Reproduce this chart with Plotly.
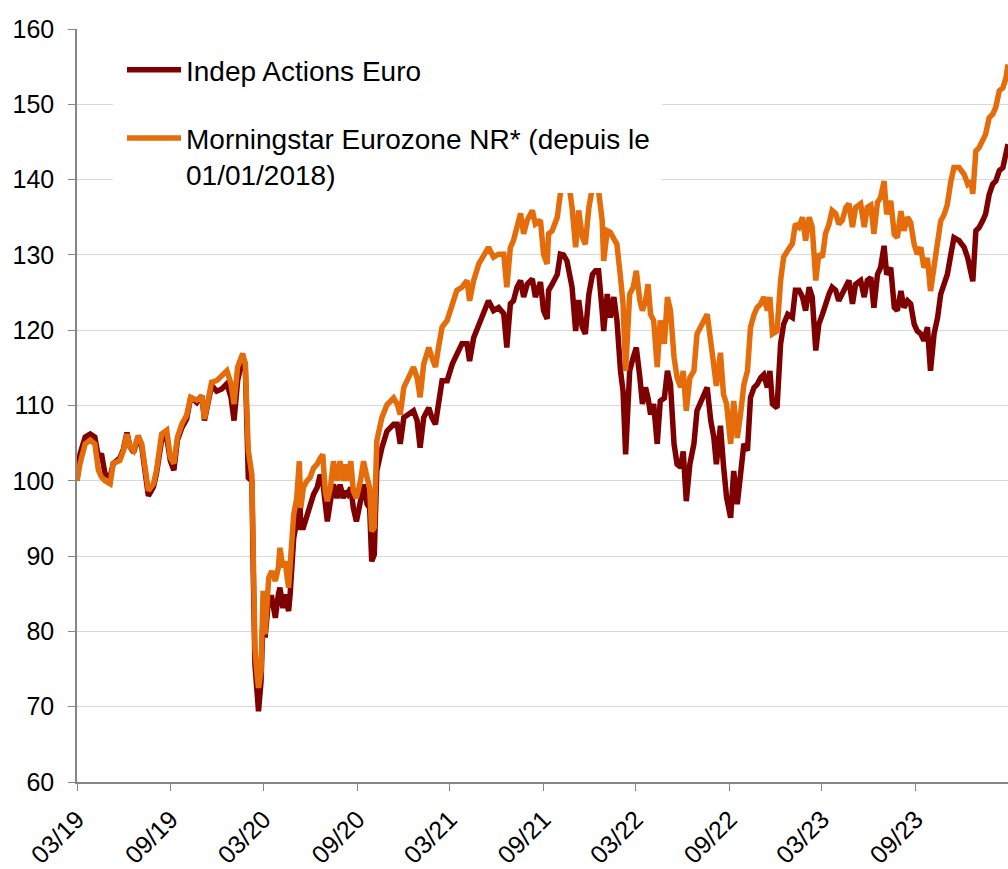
import plotly.graph_objects as go

dates = [
"2019-03-01","2019-03-07","2019-03-17","2019-03-27","2019-04-05","2019-04-12","2019-04-18","2019-04-25","2019-05-05","2019-05-11",
"2019-05-24","2019-05-31","2019-06-07","2019-06-13","2019-06-20","2019-06-29","2019-07-06","2019-07-12","2019-07-19","2019-07-29",
"2019-08-04","2019-08-14","2019-08-24","2019-08-31","2019-09-07","2019-09-14","2019-09-23","2019-10-02","2019-10-10","2019-10-22",
"2019-11-01","2019-11-06","2019-11-12","2019-11-20","2019-11-30","2019-12-10","2019-12-20","2019-12-28",
"2020-01-03","2020-01-10","2020-01-20","2020-01-25","2020-01-31","2020-02-07","2020-02-10","2020-02-13","2020-02-17","2020-02-20",
"2020-02-25","2020-02-29","2020-03-04","2020-03-11","2020-03-17","2020-03-24","2020-03-30","2020-04-02","2020-04-08","2020-04-12",
"2020-04-19","2020-04-22","2020-04-29","2020-05-05","2020-05-10","2020-05-13","2020-05-18","2020-05-25","2020-05-31","2020-06-07",
"2020-06-14","2020-06-20","2020-06-25","2020-06-30","2020-07-04","2020-07-10","2020-07-16","2020-07-23","2020-07-29","2020-08-04",
"2020-08-08","2020-08-13","2020-08-19","2020-08-24","2020-08-30","2020-09-07","2020-09-13","2020-09-20","2020-09-25","2020-09-29",
"2020-10-04","2020-10-09","2020-10-19","2020-10-29","2020-11-04","2020-11-11","2020-11-18","2020-11-24","2020-12-01","2020-12-10",
"2020-12-20","2020-12-27",
"2021-01-02","2021-01-09","2021-01-19","2021-01-25","2021-02-01","2021-02-07","2021-02-14","2021-02-24","2021-03-06","2021-03-15",
"2021-03-25","2021-04-04","2021-04-09","2021-04-17","2021-04-27","2021-05-07","2021-05-16","2021-05-26","2021-06-05","2021-06-15",
"2021-06-21","2021-06-28","2021-07-04","2021-07-11","2021-07-18","2021-07-24","2021-07-31","2021-08-10","2021-08-16","2021-08-26",
"2021-09-01","2021-09-08","2021-09-11","2021-09-18","2021-09-28","2021-10-04","2021-10-10","2021-10-17","2021-10-22","2021-10-27",
"2021-11-03","2021-11-09","2021-11-16","2021-11-22","2021-11-29","2021-12-06","2021-12-12","2021-12-18","2021-12-25","2021-12-28",
"2022-01-04","2022-01-10","2022-01-17","2022-01-23","2022-01-30","2022-02-04","2022-02-09","2022-02-13","2022-02-17","2022-02-24",
"2022-03-02","2022-03-09","2022-03-14","2022-03-20","2022-03-25","2022-03-30","2022-04-05","2022-04-12","2022-04-18","2022-04-26",
"2022-05-02","2022-05-08","2022-05-15","2022-05-21","2022-05-28","2022-06-02","2022-06-08","2022-06-15","2022-06-23","2022-06-29",
"2022-07-06","2022-07-12","2022-07-19","2022-07-26","2022-08-01","2022-08-06","2022-08-14","2022-08-20","2022-08-26","2022-09-03",
"2022-09-09","2022-09-16","2022-09-23","2022-09-29","2022-10-06","2022-10-12","2022-10-19","2022-10-25","2022-11-01","2022-11-07",
"2022-11-14","2022-11-19","2022-11-24","2022-12-03","2022-12-10","2022-12-16","2022-12-24",
"2023-01-02","2023-01-08","2023-01-15","2023-01-22","2023-01-28","2023-02-04","2023-02-10","2023-02-17","2023-02-23","2023-03-02",
"2023-03-08","2023-03-15","2023-03-21","2023-03-28","2023-04-03","2023-04-10","2023-04-17","2023-04-23","2023-04-30","2023-05-06",
"2023-05-16","2023-05-23","2023-05-29","2023-06-05","2023-06-11","2023-06-18","2023-06-24","2023-07-01","2023-07-06","2023-07-14",
"2023-07-21","2023-07-27","2023-08-03","2023-08-09","2023-08-16","2023-08-22","2023-08-29","2023-09-04","2023-09-11","2023-09-17",
"2023-09-24","2023-09-30","2023-10-07","2023-10-14","2023-10-20","2023-10-27","2023-11-02","2023-11-09","2023-11-15","2023-11-25",
"2023-12-05","2023-12-12","2023-12-18","2023-12-22","2023-12-28",
"2024-01-03","2024-01-10","2024-01-16","2024-01-23","2024-01-30","2024-02-05","2024-02-12","2024-02-19","2024-02-25","2024-02-29",
]

indep_actions_euro = [
100.0,103.6,105.8,106.2,105.8,103.1,103.6,100.9,100.5,102.3,103.0,104.2,106.4,104.5,103.8,105.8,104.5,100.9,98.0,99.2,
101.0,105.4,105.8,102.7,101.4,105.4,107.1,108.2,111.1,110.4,111.3,108.0,110.4,112.7,111.9,112.2,112.9,111.1,
108.0,113.3,116.4,115.5,100.4,100.0,86.7,75.6,72.1,69.4,73.4,82.3,79.2,84.5,84.5,81.8,84.9,85.8,83.1,84.9,82.7,84.9,92.4,
94.6,100.0,93.8,93.8,95.5,96.9,98.2,99.1,100.8,99.9,96.4,94.6,97.3,99.5,97.7,99.5,97.7,98.6,98.2,99.1,96.4,94.6,
97.3,99.5,96.9,96.4,89.3,90.2,101.3,104.4,106.6,107.1,107.5,107.5,104.9,108.4,108.8,109.3,108.0,
104.4,108.4,109.7,108.4,107.5,110.2,113.3,113.3,115.5,116.8,118.2,118.2,115.9,119.0,120.8,122.6,123.9,122.6,
123.0,122.2,117.7,123.5,123.9,125.7,126.6,124.4,126.1,126.8,124.4,126.4,122.6,121.5,125.3,126.1,127.4,
130.1,130.0,129.2,127.5,125.7,119.9,124.0,120.4,119.5,124.8,127.4,127.9,127.9,122.6,119.9,
124.8,121.7,124.4,121.3,114.6,111.9,103.5,110.2,114.6,116.4,117.7,113.7,110.2,112.4,111.0,108.8,
110.2,104.9,110.6,111.0,114.6,112.8,104.9,102.2,101.8,103.9,97.3,102.2,104.9,109.3,110.4,111.5,112.4,108.0,
105.8,102.2,107.3,102.0,97.8,95.1,101.3,96.9,101.3,104.9,104.0,111.1,112.4,112.8,113.7,114.1,112.4,114.6,110.2,
109.7,118.2,120.8,122.1,
121.7,125.3,125.3,124.4,122.6,125.7,124.4,117.3,120.8,122.1,123.5,124.8,125.7,125.3,123.9,124.8,125.7,126.6,123.5,
126.1,126.6,124.4,126.6,127.0,123.0,127.4,128.3,131.2,127.4,128.3,123.0,122.6,125.2,123.0,123.9,123.5,120.8,
119.9,119.5,118.6,120.4,114.6,119.5,121.7,124.8,126.1,127.4,130.1,132.3,131.9,131.0,129.6,127.9,126.5,133.2,
133.6,134.5,135.4,138.0,139.4,139.8,141.2,141.6,143.4,144.7,
]

morningstar_eurozone = [
100.0,102.3,104.9,105.4,104.9,101.4,100.5,100.0,99.6,102.3,102.7,104.0,106.2,104.5,104.0,106.0,104.9,101.4,98.7,99.6,
101.4,106.2,106.7,103.1,102.3,105.8,107.6,108.7,111.1,110.7,111.3,108.2,110.7,113.1,113.3,114.0,114.6,112.9,
110.2,115.1,116.9,115.5,104.0,100.8,86.7,77.8,74.3,72.5,74.7,85.4,79.6,87.1,88.0,86.7,88.5,91.1,88.5,89.3,85.8,88.5,95.5,
97.7,102.6,96.4,99.1,100.0,100.4,101.7,102.2,103.0,103.5,98.6,97.3,99.1,102.6,100.0,102.6,100.0,102.2,100.0,102.6,98.6,97.7,
100.0,102.6,100.4,99.1,93.3,93.8,105.3,108.4,110.1,110.6,111.0,110.2,108.8,112.4,113.7,115.1,113.7,
111.1,115.5,117.7,116.4,115.1,117.7,120.4,121.3,123.5,125.3,125.7,126.6,123.9,126.6,128.8,130.1,131.0,129.7,
130.1,130.1,125.7,131.0,131.9,133.7,135.5,132.8,134.6,135.9,134.1,134.6,130.1,128.8,132.8,133.2,135.0,
138.1,139.5,139.8,138.8,136.3,131.0,135.9,132.4,131.4,136.3,139.0,139.5,138.5,134.6,129.2,
133.2,133.0,132.0,131.4,127.0,123.5,114.6,119.0,124.8,125.7,127.9,123.9,122.6,123.9,126.1,122.1,
121.3,115.1,121.3,118.2,124.4,122.6,116.4,113.7,112.4,114.6,109.3,113.7,114.6,119.5,120.4,121.3,122.1,118.5,
115.5,112.6,117.0,111.5,110.2,104.9,110.6,105.7,109.2,112.8,114.6,120.4,122.1,123.0,123.5,124.4,122.6,124.4,119.5,
119.9,126.6,129.7,130.6,
131.5,134.1,133.7,135.0,131.9,135.0,133.7,126.6,130.1,129.7,132.8,134.1,135.9,135.5,134.1,134.6,136.3,136.8,133.7,
136.3,136.8,133.7,136.3,136.6,132.8,137.0,137.6,139.8,135.4,137.2,132.7,132.3,135.8,133.2,135.0,134.3,131.4,
130.1,131.0,128.3,129.6,125.2,128.3,131.0,134.5,135.4,136.7,139.8,141.6,141.6,140.7,139.4,139.8,138.1,143.8,
144.2,145.1,146.0,148.2,148.7,149.6,151.8,152.2,153.5,155.3,
]

tick_dates = ["2019-03-01","2019-09-01","2020-03-01","2020-09-01","2021-03-01",
              "2021-09-01","2022-03-01","2022-09-01","2023-03-01","2023-09-01"]
tick_labels = ["03/19","09/19","03/20","09/20","03/21","09/21","03/22","09/22","03/23","09/23"]
y_ticks = [60, 70, 80, 90, 100, 110, 120, 130, 140, 150, 160]

series_names = ["Indep Actions Euro", "Morningstar Eurozone NR* (depuis le<br>01/01/2018)"]

if not (len(dates) == len(indep_actions_euro) == len(morningstar_eurozone)):
    raise ValueError(f"length mismatch {len(dates)} {len(indep_actions_euro)} {len(morningstar_eurozone)}")

FONT = "Liberation Sans, Arial, sans-serif"
AXIS_GREY = "#868686"

fig = go.Figure()
fig.add_trace(go.Scatter(x=dates, y=indep_actions_euro, name=series_names[0], mode="lines",
                         legendgroup="a", line=dict(color="#7F0000", width=5.5)))
fig.add_trace(go.Scatter(x=dates, y=morningstar_eurozone, name=series_names[1], mode="lines",
                         legendgroup="b", line=dict(color="#E46C0A", width=5.5)))

W, H = 1008, 869
L, R, T, B = 77, 0, 29, 87
pw, ph = W - L - R, H - T - B

def px_x(p):
    return (p - L) / pw

def px_y(p):
    return (H - B - p) / ph

fig.update_layout(
    width=W, height=H,
    margin=dict(l=L, r=R, t=T, b=B),
    paper_bgcolor="white", plot_bgcolor="white",
    font=dict(family=FONT, color="black", size=25),
    showlegend=True,
    legend=dict(x=px_x(122), y=px_y(45), xanchor="left", yanchor="top",
                bgcolor="rgba(0,0,0,0)", borderwidth=0,
                font=dict(family=FONT, size=28, color="black"),
                itemwidth=54, valign="top", tracegroupgap=29),
    shapes=[dict(type="rect", xref="paper", yref="paper",
                 x0=px_x(113), x1=px_x(662), y0=px_y(193), y1=px_y(40),
                 fillcolor="white", line=dict(width=0), layer="above")],
)
fig.update_xaxes(type="date", range=["2019-03-01", "2024-02-29"],
                 tickmode="array", tickvals=tick_dates, ticktext=tick_labels,
                 tickangle=-45, ticks="outside", ticklen=7, tickcolor=AXIS_GREY,
                 showline=True, linecolor=AXIS_GREY, linewidth=1.5,
                 showgrid=False, zeroline=False, automargin=False, ticklabelstandoff=4,
                 tickfont=dict(family=FONT, size=25, color="black"))
fig.update_yaxes(range=[60, 160], tickmode="array", tickvals=y_ticks,
                 ticks="outside", ticklen=7, tickcolor=AXIS_GREY,
                 showline=True, linecolor=AXIS_GREY, linewidth=1.5,
                 showgrid=True, gridcolor="#d9d9d9", gridwidth=1,
                 zeroline=False, automargin=False, ticklabelstandoff=9,
                 tickfont=dict(family=FONT, size=25, color="black"))

fig.write_html("out.html", config={"displayModeBar": False},
               post_script="document.body.style.margin='0';document.body.style.overflow='hidden';")
